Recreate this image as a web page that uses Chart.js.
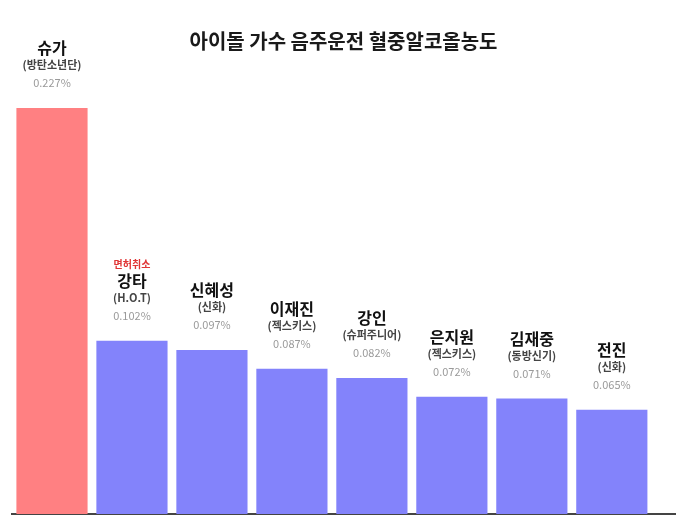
<!DOCTYPE html>
<html>
<head>
<meta charset="utf-8">
<script src="https://cdn.jsdelivr.net/npm/chart.js@4"></script>
<style>
  html, body { margin: 0; padding: 0; background: #fff; }
  canvas { display: block; }
</style>
</head>
<body>
<canvas id="bacChart" width="685" height="526"></canvas>
<script>
const names = ["슈가", "강타", "신혜성", "이재진", "강인", "은지원", "김재중", "전진"];
const groups = ["(방탄소년단)", "(H.O.T)", "(신화)", "(젝스키스)", "(슈퍼주니어)", "(젝스키스)", "(동방신기)", "(신화)"];
const bacValues = [0.227, 0.102, 0.097, 0.087, 0.082, 0.072, 0.071, 0.065];
const notes = ["", "면허취소", "", "", "", "", "", ""];

const FONT = "'Noto Sans CJK KR', 'Noto Sans', sans-serif";

// labels stacked above each bar: note / name / group / value
const barLabels = {
  id: "barLabels",
  afterDatasetsDraw(chart) {
    const ctx = chart.ctx;
    const meta = chart.getDatasetMeta(0);
    ctx.save();
    ctx.textAlign = "center";
    ctx.textBaseline = "middle";
    meta.data.forEach((bar, i) => {
      const x = bar.x;
      const top = bar.y;
      ctx.fillStyle = "#9a9a9a";
      ctx.font = "11px " + FONT;
      ctx.fillText(bacValues[i].toFixed(3) + "%", x, top - 25);
      ctx.fillStyle = "#444";
      ctx.font = "bold 11px " + FONT;
      ctx.fillText(groups[i], x, top - 43);
      ctx.fillStyle = "#111";
      ctx.font = "bold 16px " + FONT;
      ctx.fillText(names[i], x, top - 60);
      if (notes[i]) {
        ctx.fillStyle = "#e03535";
        ctx.font = "bold 10px " + FONT;
        ctx.fillText(notes[i], x, top - 77);
      }
    });
    ctx.restore();
  }
};

new Chart(document.getElementById("bacChart"), {
  type: "bar",
  data: {
    datasets: [
      {
        data: bacValues.map((v, i) => ({ x: i, y: v })),
        backgroundColor: bacValues.map((v, i) => (i === 0 ? "#ff8082" : "#8383fb")),
        barPercentage: 0.89,
        categoryPercentage: 1
      }
    ]
  },
  options: {
    responsive: false,
    animation: false,
    layout: { padding: { left: 12, right: 10, bottom: 12, top: 0 } },
    plugins: {
      legend: { display: false },
      tooltip: { enabled: false },
      title: {
        display: true,
        text: "아이돌 가수 음주운전 혈중알코올농도",
        color: "#1a1a1a",
        font: { family: FONT, size: 20, weight: "bold" },
        padding: { top: 29, bottom: 55 }
      }
    },
    scales: {
      x: {
        type: "linear",
        offset: false,
        min: -0.5,
        max: 7.79,
        ticks: { display: false, stepSize: 1, includeBounds: false },
        grid: { display: false, drawTicks: false },
        border: { display: true, color: "#444", width: 2 }
      },
      y: {
        display: false,
        min: 0.009,
        max: 0.227
      }
    }
  },
  plugins: [barLabels]
});
</script>
</body>
</html>
